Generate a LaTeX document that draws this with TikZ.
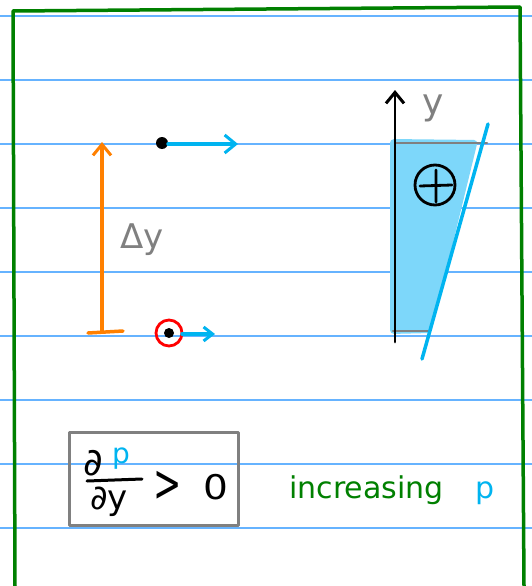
\documentclass[tikz,border=0pt]{standalone}
\usepackage{fontspec}
\setmainfont{DejaVu Sans}
\usetikzlibrary{arrows.meta}
\definecolor{rule}{RGB}{102,179,255}
\definecolor{frame}{RGB}{0,128,0}
\definecolor{cyanp}{RGB}{0,180,240}
\definecolor{fillb}{RGB}{125,215,250}
\definecolor{orangea}{RGB}{255,128,0}
\definecolor{grayc}{RGB}{128,128,128}
\tikzset{
  ruleline/.style={rule, line width=1.2pt},
  barb/.style={-{Straight Barb[length=11pt,width=18pt,line width=3pt]}},
  smallbarb/.style={-{Straight Barb[length=9pt,width=14pt,line width=3pt]}},
  lbl/.style={inner sep=0pt, font=\fontsize{30}{34}\selectfont},
}
\begin{document}
\begin{tikzpicture}[x=1pt,y=-1pt, line cap=round, line join=round]
\useasboundingbox (0,0) rectangle (532,586);
\fill[white] (0,0) rectangle (532,586);
% ruled lines
\foreach \yy in {16,80,144,208,272,336,400,464,528}
  \draw[ruleline] (0,\yy) -- (532,\yy);
% green frame
\coordinate (fbl) at (15,586);
\coordinate (ftl) at (13,11);
\coordinate (ftr) at (520,7);
\coordinate (fbr) at (524,586);
\draw[frame, line width=3.5pt] (fbl) -- (ftl) -- (ftr) -- (fbr);
% orange delta-y arrow
\coordinate (ob) at (102,332);
\coordinate (ot) at (102,142);
\coordinate (obl) at (88,333);
\coordinate (obr) at (123,331);
\draw[orangea, line width=3.5pt, barb] (ob) -- (ot);
\draw[orangea, line width=3.5pt] (obl) -- (obr);
\node[lbl, text=grayc, font=\fontsize{34}{38}\selectfont] (dy) at (142,240) {Δy};
% top particle
\node[circle, fill=black, inner sep=0pt, minimum size=12pt] (d1) at (162,143) {};
\coordinate (a1s) at (168,144);
\coordinate (a1) at (238,144);
\draw[cyanp, line width=3.5pt, barb] (a1s) -- (a1);
% bottom particle
\node[circle, draw=red, line width=2.8pt, inner sep=0pt, minimum size=26pt] (c2) at (169,333) {};
\node[circle, fill=black, inner sep=0pt, minimum size=10pt] (d2) at (169,333) {};
\coordinate (a2s) at (182,334);
\coordinate (a2) at (215,334);
\draw[cyanp, line width=3.5pt, smallbarb] (a2s) -- (a2);
% right profile
\fill[fillb, rounded corners=4pt] (390,139) -- (478,140) -- (431,333) -- (390,334) -- cycle;
\draw[grayc, line width=2.5pt] (395,143) -- (487,143);
\draw[grayc, line width=2.5pt] (393,331) -- (430,331);
\coordinate (ax0) at (395,342);
\coordinate (ax1) at (395,90);
\draw[black, line width=2.8pt, barb] (ax0) -- (ax1);
\node[lbl, text=grayc, font=\fontsize{36}{40}\selectfont] (ylab) at (433,108) {y};
\coordinate (p0) at (488,124);
\coordinate (p1) at (422,359);
\draw[cyanp, line width=3.5pt] (p0) -- (p1);
\node[circle, draw=black, line width=2.8pt, inner sep=0pt, minimum size=40pt] (plus) at (435,185) {};
\coordinate (plw) at (420,186);
\coordinate (ple) at (452,185);
\coordinate (pln) at (436,170);
\coordinate (pls) at (436,202);
\draw[black, line width=2.8pt] (plw) -- (ple) (pln) -- (pls);
% formula box
\node[draw=grayc, line width=3pt, minimum width=169pt, minimum height=93pt, inner sep=0pt] (box) at (153.5,479) {};
\node[inner sep=0pt, font=\fontsize{38}{42}\selectfont] (dp) at (93,463) {∂};
\node[inner sep=0pt, text=cyanp, font=\fontsize{28}{32}\selectfont] (pnum) at (121,459) {p};
\coordinate (fb0) at (87,481);
\coordinate (fb1) at (142,479);
\draw[black, line width=3pt] (fb0) -- (fb1);
\node[inner sep=0pt, font=\fontsize{34}{38}\selectfont] (dy2) at (109,502) {∂y};
\node[inner sep=0pt, xscale=0.65, font=\fontsize{52}{56}\selectfont] (gt) at (168,486) {>};
\node[inner sep=0pt, xscale=1.15, font=\fontsize{34}{38}\selectfont] (zero) at (216,487) {0};
% label
\node[anchor=base west, inner sep=0pt, text=frame, font=\fontsize{30}{34}\selectfont] (inc) at (289,498) {increasing};
\node[anchor=base west, inner sep=0pt, text=cyanp, font=\fontsize{30}{34}\selectfont] (pp) at (475,498) {p};
\end{tikzpicture}
\end{document}
